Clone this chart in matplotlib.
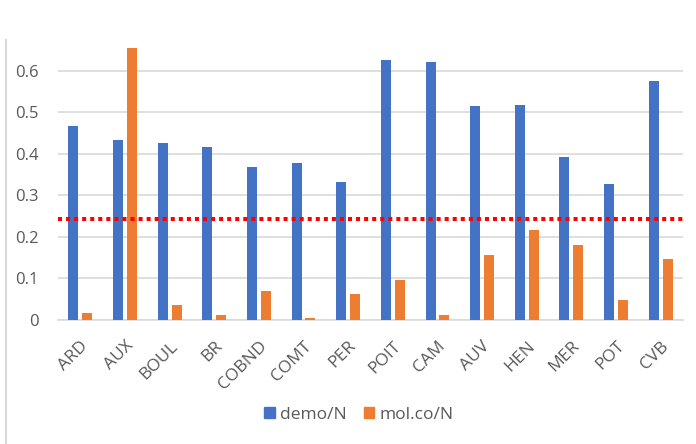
import matplotlib
matplotlib.use("Agg")
import matplotlib.pyplot as plt
import numpy as np
from matplotlib.lines import Line2D
from matplotlib.patches import Patch

categories = ["ARD", "AUX", "BOUL", "BR", "COBND", "COMT", "PER",
              "POIT", "CAM", "AUV", "HEN", "MER", "POT", "CVB"]
demo_n = [0.467, 0.434, 0.425, 0.416, 0.368, 0.378, 0.333,
          0.625, 0.620, 0.514, 0.516, 0.392, 0.326, 0.575]
molco_n = [0.018, 0.655, 0.037, 0.013, 0.070, 0.004, 0.062,
           0.096, 0.011, 0.157, 0.217, 0.181, 0.047, 0.147]
threshold = 0.243
yticks = [0, 0.1, 0.2, 0.3, 0.4, 0.5, 0.6]

BLUE = "#4472C4"
ORANGE = "#ED7D31"
GRAY_TXT = "#595959"
GRID = "#D9D9D9"

plt.rcParams["font.family"] = ["Open Sans", "DejaVu Sans"]

fig = plt.figure(figsize=(6.96, 4.44), dpi=100)
ax = fig.add_axes([58 / 696, 1 - 320 / 444, (683 - 58) / 696, (320 - 29) / 444])

x = np.arange(len(categories))
w = 0.225
ax.bar(x - 0.155, demo_n, width=w, color=BLUE, zorder=3)
ax.bar(x + 0.155, molco_n, width=w, color=ORANGE, zorder=3)

ax.axhline(threshold, color="#FF0000", linewidth=2.9,
           linestyle=(0, (1, 1)), dash_capstyle="butt", zorder=4)

ax.set_xlim(-0.5, len(categories) - 0.5)
ax.set_ylim(0, 0.7)
ax.set_yticks(yticks)
ax.set_yticklabels(["0" if v == 0 else f"{v:.1f}" for v in yticks])
ax.yaxis.grid(True, color=GRID, linewidth=1.2, zorder=0)
ax.set_axisbelow(True)
for s in ["top", "right", "left"]:
    ax.spines[s].set_visible(False)
ax.spines["bottom"].set_color(GRID)
ax.spines["bottom"].set_linewidth(1.2)
ax.tick_params(axis="both", length=0, colors=GRAY_TXT, labelsize=12)
ax.tick_params(axis="y", pad=14)

ax.set_xticks(x)
ax.set_xticklabels(categories, rotation=45, ha="right", va="top",
                   rotation_mode="anchor")
ax.tick_params(axis="x", pad=13, labelsize=12.5)

# chart border fragment on the left
fig.add_artist(Line2D([6 / 696, 6 / 696], [0, 1 - 40 / 444],
                      transform=fig.transFigure, color=GRID, linewidth=1.5))

handles = [Patch(color=BLUE, label="demo/N"), Patch(color=ORANGE, label="mol.co/N")]
leg = fig.legend(handles=handles, loc="center", ncol=2,
                 bbox_to_anchor=(359 / 696, 1 - 415 / 444), frameon=False,
                 fontsize=12.5, handlelength=0.6, handleheight=0.6,
                 handletextpad=0.3, columnspacing=1.0)
for t in leg.get_texts():
    t.set_color(GRAY_TXT)

fig.savefig("out.png", dpi=100, facecolor="white")
